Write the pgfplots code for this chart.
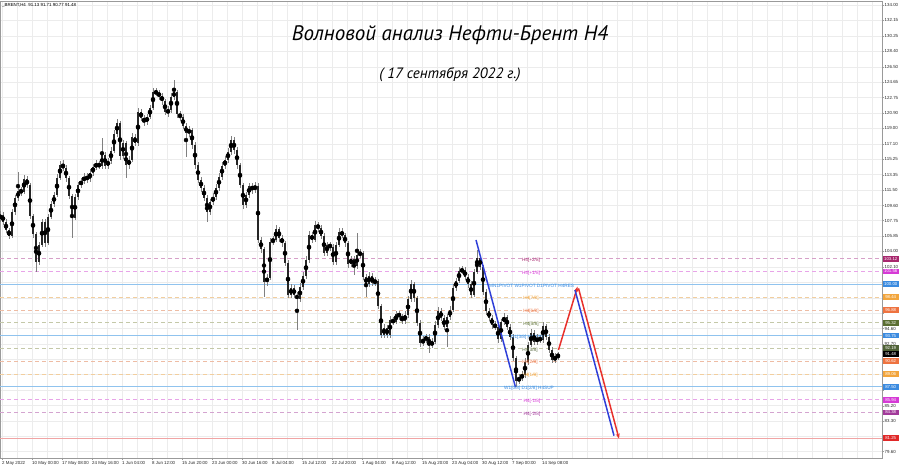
\documentclass[border=0pt]{standalone}
\usepackage{fontspec}
\setmainfont{Liberation Sans}
\newfontfamily\titlefont{PT Sans}
\usepackage{pgfplots}
\usepackage{pgfplotstable}
\pgfplotsset{compat=1.18}
\usetikzlibrary{arrows.meta}

\definecolor{gridc}{HTML}{ECECEC}
\definecolor{frame}{HTML}{9A9A9A}
\definecolor{bodyc}{HTML}{262626}
\definecolor{wickc}{HTML}{808080}
\definecolor{wblue}{HTML}{2F3FD8}
\definecolor{wred}{HTML}{E8312C}
% label boxes
\definecolor{bA}{HTML}{A8286E}
\definecolor{bB}{HTML}{D63AD6}
\definecolor{bC}{HTML}{3B8BE0}
\definecolor{bD}{HTML}{F2A53C}
\definecolor{bE}{HTML}{EE7340}
\definecolor{bF}{HTML}{5A6E32}
\definecolor{bG}{HTML}{4F6136}
\definecolor{bH}{HTML}{A23A9A}
\definecolor{bR}{HTML}{E02828}
% lines
\definecolor{lA}{HTML}{D6A0C8}
\definecolor{lB}{HTML}{E8A4E8}
\definecolor{lC}{HTML}{90C3EE}
\definecolor{lD}{HTML}{F2CE9E}
\definecolor{lE}{HTML}{EEBCA4}
\definecolor{lF}{HTML}{C4C8A8}
\definecolor{lH}{HTML}{D4A4D0}
\definecolor{lR}{HTML}{F0A4A4}

\pgfplotstableread{
x o h l c
0 108.00 108.90 107.60 108.45
3 108.45 108.80 107.20 107.59
6 107.59 107.90 106.20 106.62
9 106.62 106.90 105.50 105.89
12 105.89 109.20 105.60 108.81
15 108.81 110.90 108.50 110.52
18 110.52 113.72 110.20 111.37
21 111.37 111.90 110.80 111.25
24 111.25 113.30 111.00 112.83
27 112.83 113.20 111.70 112.10
30 112.10 112.40 108.00 108.32
33 108.32 108.60 105.70 106.13
36 106.13 106.40 101.54 102.72
39 102.72 105.20 102.40 104.79
42 104.79 108.00 104.50 107.59
45 107.59 107.90 104.60 105.03
48 105.03 108.60 104.80 108.20
51 108.20 110.20 107.90 109.79
54 109.79 111.30 109.40 110.88
57 110.88 113.40 110.60 112.95
60 112.95 115.00 112.70 114.54
63 114.54 115.10 113.80 114.20
66 114.20 114.50 112.50 112.95
69 112.95 113.20 110.40 110.76
72 110.76 111.00 105.64 108.08
75 108.08 111.00 107.80 110.64
78 110.64 112.50 110.30 112.10
81 112.10 113.00 111.70 112.59
84 112.59 113.50 112.20 113.08
87 113.08 113.50 112.40 112.83
90 112.83 114.00 112.50 113.57
93 113.57 114.70 113.20 114.30
96 114.30 115.10 113.90 114.66
99 114.66 115.00 114.00 114.42
102 114.42 117.83 114.10 115.76
105 115.76 116.10 114.00 114.42
108 114.42 115.40 114.10 115.03
111 115.03 116.70 114.70 116.25
114 116.25 118.80 116.00 118.32
117 118.32 120.10 118.00 119.66
120 119.66 119.90 115.20 115.64
123 115.64 117.60 115.30 117.22
126 117.22 117.50 112.95 114.54
129 114.54 115.60 114.10 115.15
132 115.15 118.40 114.90 117.95
135 117.95 118.30 116.80 117.22
138 117.22 121.50 116.90 121.00
141 121.00 121.40 119.90 120.27
144 120.27 120.60 119.30 119.78
147 119.78 120.80 119.40 120.39
150 120.39 121.90 120.10 121.49
153 121.49 123.90 121.20 123.44
156 123.44 123.90 122.90 123.31
159 123.31 123.70 122.50 122.95
162 122.95 123.30 121.90 122.34
165 122.34 122.60 120.60 121.00
168 121.00 121.70 120.40 121.20
171 121.20 123.30 120.90 122.83
174 122.83 124.90 122.50 123.44
177 123.44 123.70 120.30 120.75
180 120.75 121.10 119.90 120.39
183 120.39 120.70 118.90 119.29
186 119.29 119.60 115.55 118.44
189 118.44 119.30 118.00 118.80
192 118.80 119.10 116.50 116.98
195 116.98 117.30 114.10 114.54
198 114.54 114.90 112.30 112.71
201 112.71 113.10 111.30 111.74
204 111.74 112.10 110.10 110.52
207 110.52 110.90 107.63 108.81
210 108.81 110.40 108.50 110.03
213 110.03 111.10 109.70 110.64
216 110.64 112.20 110.30 111.74
219 111.74 113.50 111.40 113.08
222 113.08 114.90 112.70 114.42
225 114.42 115.60 114.00 115.15
228 115.15 116.60 114.80 116.12
231 116.12 118.10 115.80 117.59
234 117.59 117.90 115.90 116.37
237 116.37 116.70 114.10 114.54
240 114.54 114.80 111.70 112.10
243 112.10 112.40 109.20 109.66
246 109.66 111.30 109.30 110.88
249 110.88 112.40 110.50 111.98
252 111.98 112.40 111.00 111.49
255 111.49 112.50 111.10 111.98
258 111.98 112.30 105.00 105.40
261 105.40 105.80 103.80 104.30
264 104.30 104.60 98.49 100.28
267 100.28 101.30 99.80 100.77
270 100.77 105.60 100.50 105.16
273 105.16 105.90 104.80 105.40
276 105.40 107.20 105.10 106.74
279 106.74 107.00 105.20 105.64
282 105.64 106.00 104.60 105.03
285 105.03 105.30 102.20 102.60
288 102.60 102.90 98.30 98.70
291 98.70 100.00 98.30 99.55
294 99.55 99.90 98.30 98.70
297 98.70 99.10 94.43 98.21
300 98.21 100.10 97.80 99.67
303 99.67 101.50 99.30 101.01
306 101.01 103.40 100.70 102.96
309 102.96 106.50 102.60 106.01
312 106.01 106.40 105.00 105.40
315 105.40 107.70 105.10 107.23
318 107.23 107.60 106.40 106.86
321 106.86 107.20 105.50 105.89
324 105.89 106.20 103.40 103.81
327 103.81 105.20 103.50 104.79
330 104.79 105.20 104.10 104.55
333 104.55 104.90 102.30 102.72
336 102.72 105.20 102.40 104.79
339 104.79 106.80 104.50 106.37
342 106.37 106.80 105.60 106.01
345 106.01 106.30 104.60 105.03
348 105.03 105.30 102.00 102.47
351 102.47 103.50 102.10 103.08
354 103.08 103.40 101.13 102.23
357 102.23 106.25 101.90 103.57
360 103.57 104.30 103.20 103.81
363 103.81 104.10 100.50 100.89
366 100.89 101.30 98.49 100.04
369 100.04 101.50 99.70 101.01
372 101.01 101.40 99.80 100.16
375 100.16 100.90 99.80 100.40
378 100.40 100.70 97.00 97.36
381 97.36 97.60 93.40 93.82
384 93.82 95.10 93.50 94.68
387 94.68 95.00 93.40 93.82
390 93.82 96.10 93.50 95.65
393 95.65 96.00 95.00 95.41
396 95.41 96.80 95.10 96.38
399 96.38 96.80 95.70 96.10
402 96.10 96.40 95.10 95.53
405 95.53 96.70 95.20 96.26
408 96.26 98.60 95.90 98.21
411 98.21 100.50 97.90 100.04
414 100.04 100.30 97.90 98.33
417 98.33 98.60 94.90 95.29
420 95.29 95.60 92.40 92.85
423 92.85 93.70 92.50 93.21
426 93.21 94.00 92.80 93.58
429 93.58 93.90 91.63 92.60
432 92.60 93.40 92.20 92.97
435 92.97 95.50 92.70 95.04
438 95.04 97.20 94.70 96.75
441 96.75 97.10 95.50 95.89
444 95.89 96.20 94.40 94.80
447 94.80 96.40 92.40 96.02
450 96.02 97.30 95.70 96.87
453 96.87 100.00 96.60 99.55
456 99.55 100.80 99.20 100.40
459 100.40 102.10 100.10 101.62
462 101.62 102.20 101.20 101.74
465 101.74 102.10 100.50 100.89
468 100.89 101.30 99.60 100.04
471 100.04 100.40 98.30 98.70
474 98.70 101.90 98.40 101.50
477 101.50 104.18 101.20 103.21
480 103.21 103.60 101.70 102.11
483 102.11 102.40 98.70 99.06
486 99.06 99.40 96.30 96.75
489 96.75 97.10 95.50 95.89
492 95.89 96.30 94.60 95.04
495 95.04 95.50 94.40 94.80
498 94.80 95.10 92.90 93.33
501 93.33 95.80 93.00 95.41
504 95.41 96.50 95.00 96.02
507 96.02 96.30 94.40 94.80
510 94.80 95.10 93.20 93.58
513 93.58 93.90 90.60 91.02
516 91.02 91.30 87.52 88.22
519 88.22 89.10 87.80 88.58
522 88.58 89.40 88.20 88.95
525 88.95 91.00 88.60 90.53
528 90.53 93.00 90.20 92.60
531 92.60 94.50 92.30 94.07
534 94.07 94.40 92.60 92.97
537 92.97 93.90 92.60 93.46
540 93.46 93.80 92.80 93.21
543 93.21 95.40 92.90 94.92
546 94.92 95.20 93.20 93.58
549 93.58 93.90 91.60 92.00
552 92.00 92.30 90.40 90.78
555 90.78 91.60 90.40 91.13
558 91.13 91.71 90.77 91.48
}\candles

\newcommand{\lvl}[2]{\addplot[#2, forget plot] coordinates {(0,#1) (882,#1)};}
\tikzset{lbl/.style={anchor=west, text=white, inner sep=0.4pt, minimum height=5.8pt, minimum width=16pt, font=\fontsize{4.3}{4.8}\selectfont},
ann/.style={font=\fontsize{4.7}{5.4}\selectfont, inner sep=0pt, yshift=-1.5pt}}

\begin{document}
\begin{tikzpicture}
\useasboundingbox (0pt,0pt) rectangle (900pt,468pt);
\begin{axis}[
  at={(0pt,10pt)}, anchor=south west,
  scale only axis, width=882pt, height=457pt,
  xmin=0, xmax=882, ymin=78.83, ymax=134.52,
  clip=false,
  axis line style={draw=frame, line width=0.6pt},
  ytick={79.60,81.45,83.30,85.20,87.10,89.00,90.85,92.70,94.60,96.50,98.35,100.25,102.10,104.00,105.85,107.75,109.60,111.50,113.35,115.25,117.10,119.00,120.90,122.75,124.65,126.50,128.40,130.25,132.15,134.00},
  yticklabels={79.60,,83.30,85.20,,,,92.70,94.60,,,,102.10,104.00,105.85,107.75,109.60,111.50,113.35,115.25,117.10,119.00,120.90,122.75,124.65,126.50,128.40,130.25,132.15,134.00},
  ytick pos=right, yticklabel pos=right,
  xtick={2,32,62,92,122,152,182,212,242,272,302,332,362,392,422,452,482,512,542},
  xticklabels={2 May 2022,10 May 00:00,17 May 08:00,24 May 16:00,1 Jun 04:00,8 Jun 12:00,15 Jun 20:00,23 Jun 00:00,30 Jun 16:00,8 Jul 04:00,15 Jul 12:00,22 Jul 20:00,1 Aug 04:00,8 Aug 12:00,15 Aug 20:00,23 Aug 04:00,30 Aug 12:00,7 Sep 00:00,14 Sep 08:00},
  xtick pos=bottom,
  minor xtick={2,17,...,872},
  minor tick length=0pt,
  major tick length=2pt,
  tick align=outside,
  tick style={draw=frame, line width=0.4pt},
  grid=both,
  major grid style={draw=gridc, line width=0.5pt},
  minor grid style={draw=gridc, line width=0.5pt},
  ticklabel style={font=\fontsize{4.4}{5}\selectfont, text=black!85},
  xticklabel style={anchor=north west, inner sep=1pt, xshift=-1pt},
  yticklabel style={anchor=west, inner sep=1pt, xshift=-0.5pt},
  /pgf/number format/assume math mode=true,
]
% level lines
\lvl{103.12}{draw=lA, line width=0.6pt, dash pattern=on 4pt off 3pt}
\lvl{101.56}{draw=lB, line width=0.6pt, dash pattern=on 4pt off 3pt}
\lvl{100.00}{draw=lC, line width=0.8pt}
\lvl{98.44}{draw=lD, line width=0.6pt, dash pattern=on 4pt off 3pt}
\lvl{96.88}{draw=lE, line width=0.6pt, dash pattern=on 4pt off 3pt}
\lvl{95.32}{draw=lF, line width=0.6pt, dash pattern=on 4pt off 3pt}
\lvl{93.75}{draw=lC, line width=0.8pt}
\lvl{92.19}{draw=lF, line width=0.6pt, dash pattern=on 4pt off 3pt}
\lvl{90.62}{draw=lE, line width=0.6pt, dash pattern=on 4pt off 3pt}
\lvl{89.06}{draw=lD, line width=0.6pt, dash pattern=on 4pt off 3pt}
\lvl{87.50}{draw=lC, line width=0.8pt}
\lvl{85.94}{draw=lB, line width=0.6pt, dash pattern=on 4pt off 3pt}
\lvl{84.38}{draw=lH, line width=0.6pt, dash pattern=on 4pt off 3pt}
\lvl{81.25}{draw=lR, line width=0.8pt}

% candles: wicks
\addplot[only marks, mark=none, forget plot,
  error bars/.cd, y dir=both, y explicit, error mark=none,
  error bar style={draw=wickc, line width=0.5pt, solid}]
  table[x=x, y expr={(\thisrow{h}+\thisrow{l})/2}, y error expr={(\thisrow{h}-\thisrow{l})/2}] {\candles};
% candles: bodies
\addplot[only marks, mark=none, forget plot,
  error bars/.cd, y dir=both, y explicit, error mark=none,
  error bar style={draw=bodyc, line width=1.2pt, solid}]
  table[x=x, y expr={(\thisrow{o}+\thisrow{c})/2}, y error expr={max(abs(\thisrow{o}-\thisrow{c})/2,0.06)}] {\candles};

% wave lines
\addplot[wblue, line width=1.5pt, forget plot] coordinates {(476,105.40) (515.5,87.45)};
\addplot[wred, line width=1.5pt, forget plot, -{Stealth[length=5pt,width=4pt]}] coordinates {(558.5,92.00) (577.5,99.70)};
\addplot[wblue, line width=1.5pt, forget plot] coordinates {(575,99.30) (614,81.55)};
\addplot[wred, line width=1.5pt, forget plot, -{Stealth[length=5pt,width=4pt]}] coordinates {(578.5,99.50) (619,81.20)};

% annotations
\node[ann, text=bA] at (axis cs:531,103.12) {H4[+2/8]};
\node[ann, text=bB] at (axis cs:531,101.56) {H4[+1/8]};
\node[ann, text=bC, anchor=west] at (axis cs:489,100.00) {MN1PIVOT W1PIVOT D1PIVOT H4RES};
\node[ann, text=bD] at (axis cs:531,98.44) {H4[7/8]};
\node[ann, text=bE] at (axis cs:531,96.88) {H4[6/8]};
\node[ann, text=bF] at (axis cs:531,95.32) {H4[5/8]};
\node[ann, text=bC, anchor=west] at (axis cs:511,93.75) {D1[3/8] H4[4/8]};
\node[ann, text=bG] at (axis cs:530,92.19) {H4[3/8]};
\node[ann, text=bE] at (axis cs:530,90.62) {H4[2/8]};
\node[ann, text=bD] at (axis cs:530,89.06) {H4[1/8]};
\node[ann, text=bC, anchor=west] at (axis cs:504,87.50) {W1[0/8] D1[2/8] H4SUP};
\node[ann, text=bB] at (axis cs:532,85.94) {H4[-1/8]};
\node[ann, text=bH] at (axis cs:532,84.38) {H4[-2/8]};

% price boxes
\node[lbl, fill=bA] at (axis cs:882.5,103.12) {103.12};
\node[lbl, fill=bB] at (axis cs:882.5,101.56) {101.56};
\node[lbl, fill=bC] at (axis cs:882.5,100.00) {100.00};
\node[lbl, fill=bD] at (axis cs:882.5,98.44) {98.44};
\node[lbl, fill=bE] at (axis cs:882.5,96.88) {96.88};
\node[lbl, fill=bF] at (axis cs:882.5,95.32) {95.32};
\node[lbl, fill=bC] at (axis cs:882.5,93.75) {93.75};
\node[lbl, fill=bG] at (axis cs:882.5,92.19) {92.19};
\node[lbl, fill=black] at (axis cs:882.5,91.48) {91.48};
\node[lbl, fill=bE] at (axis cs:882.5,90.62) {90.62};
\node[lbl, fill=bD] at (axis cs:882.5,89.06) {89.06};
\node[lbl, fill=bC] at (axis cs:882.5,87.50) {87.50};
\node[lbl, fill=bB] at (axis cs:882.5,85.94) {85.94};
\node[lbl, fill=bH] at (axis cs:882.5,84.38) {84.38};
\node[lbl, fill=bR] at (axis cs:882.5,81.25) {81.25};
\end{axis}
\node[anchor=west, font=\fontsize{4.4}{5}\selectfont, inner sep=0pt] at (2pt,463pt) {\_BRENT,H4\ \ 91.13 91.71 90.77 91.48};
\node[font=\titlefont\itshape\fontsize{21}{25}\selectfont] at (450pt,433pt) {Волновой анализ Нефти-Брент H4};
\node[font=\titlefont\itshape\fontsize{15}{18}\selectfont] at (450pt,393pt) {( 17 сентября 2022 г.)};
\end{tikzpicture}
\end{document}
